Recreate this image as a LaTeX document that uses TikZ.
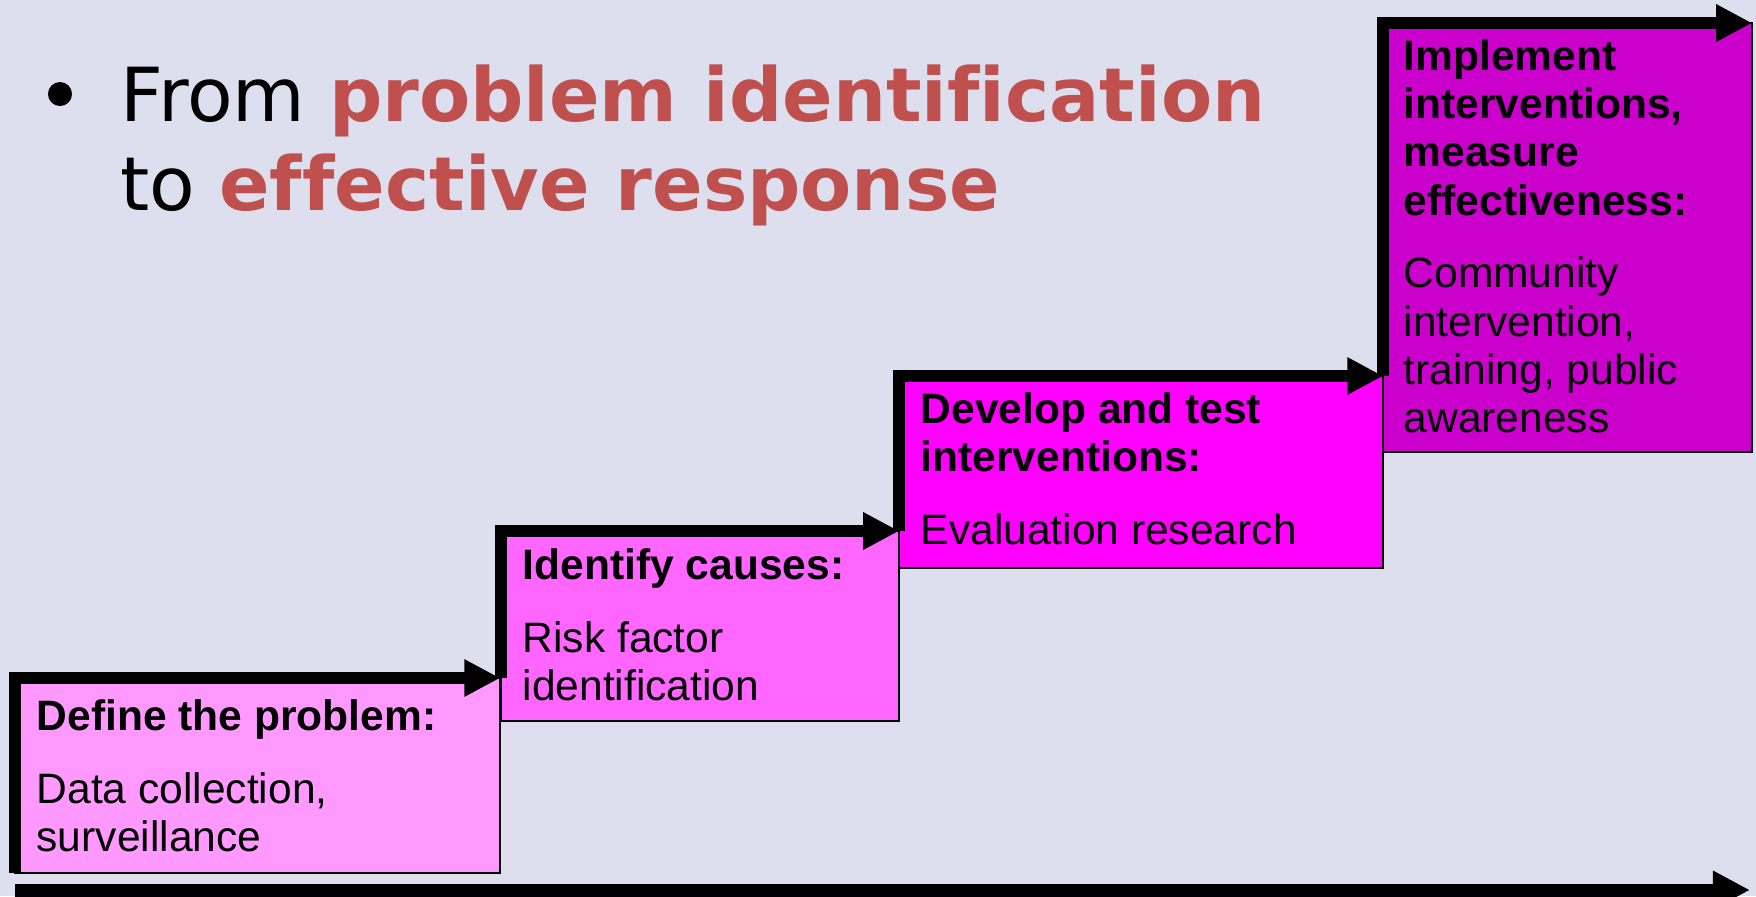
\documentclass[tikz,border=0pt]{standalone}
\usepackage{fontspec}
\setmainfont{Liberation Sans}
\newfontfamily\titlefont[Ligatures=NoCommon]{DejaVu Sans}
\usetikzlibrary{arrows.meta}

\definecolor{slidebg}{RGB}{221,223,238}
\definecolor{titlered}{RGB}{192,80,77}
\definecolor{stepone}{RGB}{255,153,255}
\definecolor{steptwo}{RGB}{255,102,255}
\definecolor{stepthree}{RGB}{255,0,255}
\definecolor{stepfour}{RGB}{204,0,204}

\tikzset{
  stepbox/.style={draw=black, line width=0.5pt, inner sep=0pt, outer sep=0pt, anchor=north west},
  steptext/.style={anchor=north west, inner sep=0pt, align=left, font=\fontsize{12.1}{13.7}\selectfont},
  steparrow/.style={line width=0.12cm, line join=miter, -{Triangle[length=0.36cm,width=0.35cm]}},
  titleline/.style={anchor=base west, inner sep=0pt, font=\titlefont\fontsize{21.2}{25}\selectfont},
}

\begin{document}
\begin{tikzpicture}[x=0.01cm,y=-0.01cm]
	\fill[slidebg] (0,0) rectangle (1756,896);
	\useasboundingbox (0,0) rectangle (1756,896);

	% title
	\node[circle, fill=black, inner sep=0pt, minimum size=0.24cm] (bullet) at (60,94) {};
	\node[titleline] (line1) at (120,121) {From {\color{titlered}\bfseries problem identification}};
	\node[titleline] (line2) at (120,210) {to {\color{titlered}\bfseries effective response}};

	% the four steps
	\node[stepbox, fill=stepone, minimum width=4.85cm, minimum height=1.95cm] (b1) at (15,678) {};
	\node[stepbox, fill=steptwo, minimum width=3.98cm, minimum height=1.90cm] (b2) at (501,531) {};
	\node[stepbox, fill=stepthree, minimum width=4.84cm, minimum height=1.92cm] (b3) at (899,376) {};
	\node[stepbox, fill=stepfour, minimum width=3.69cm, minimum height=4.29cm] (b4) at (1383,23) {};

	\node[steptext] (t1) at ([shift={(21,21)}]b1.north west) {\textbf{Define the problem:}\\[7pt] Data collection,\\ surveillance};
	\node[steptext] (t2) at ([shift={(21,17)}]b2.north west) {\textbf{Identify causes:}\\[7pt] Risk factor\\ identification};
	\node[steptext] (t3) at ([shift={(21,16)}]b3.north west) {\textbf{Develop and test}\\ \textbf{interventions:}\\[7pt] Evaluation research};
	\node[steptext] (t4) at ([shift={(20,16)}]b4.north west) {\textbf{Implement}\\ \textbf{interventions,}\\ \textbf{measure}\\ \textbf{effectiveness:}\\[7pt] Community\\ intervention,\\ training, public\\ awareness};

	\draw[steparrow] (b1.south west) -- (b1.north west) -- (b1.north east);
	\draw[steparrow] (b2.west |- b1.north) -- (b2.north west) -- (b2.north east);
	\draw[steparrow] (b3.west |- b2.north) -- (b3.north west) -- (b3.north east);
	\draw[steparrow] (b4.west |- b3.north) -- (b4.north west) -- (b4.north east);

	% time line
	\coordinate (axisstart) at (15,890);
	\coordinate (axisend) at (1750,890);
	\draw[line width=0.13cm, -{Triangle[length=0.37cm,width=0.36cm]}] (axisstart) -- (axisend);
\end{tikzpicture}
\end{document}
